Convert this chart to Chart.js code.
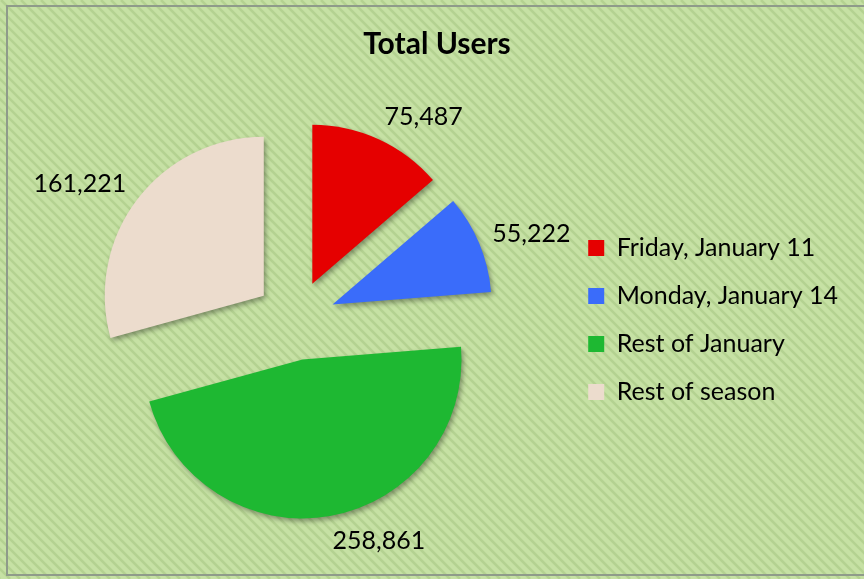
<!DOCTYPE html>
<html>
<head>
<meta charset="utf-8">
<script src="https://cdn.jsdelivr.net/npm/chart.js@4.4.1/dist/chart.umd.min.js"></script>
<style>
  html, body { margin: 0; padding: 0; background: #c5e0a3; }
</style>
</head>
<body>
<canvas id="usersChart" width="864" height="579"></canvas>
<script>
const categories = ['Friday, January 11', 'Monday, January 14', 'Rest of January', 'Rest of season'];
const userCounts = [75487, 55222, 258861, 161221];
const sliceColors = ['#e50000', '#3a6cfa', '#1eb832', '#ecdccd'];

const EXPLODE = 40; // px each slice is pulled out from the centre

// striped green backdrop + thin grey frame
const backdrop = {
  id: 'backdrop',
  beforeDraw(chart) {
    const { ctx, width, height } = chart;
    ctx.save();
    ctx.fillStyle = '#c6e1a4';
    ctx.fillRect(0, 0, width, height);
    ctx.strokeStyle = '#b4d291';
    ctx.lineWidth = 2.5;
    for (let x = -height; x < width + 10; x += 10) {
      ctx.beginPath();
      ctx.moveTo(x, 0);
      ctx.lineTo(x + height, height);
      ctx.stroke();
    }
    ctx.strokeStyle = '#8f9b8a';
    ctx.lineWidth = 2;
    ctx.strokeRect(7, 6, width + 10, height - 10);
    ctx.restore();
  }
};

// pull slices out along their middle angle
const explode = {
  id: 'explode',
  afterDatasetsUpdate(chart) {
    chart.getDatasetMeta(0).data.forEach(arc => {
      const mid = (arc.startAngle + arc.endAngle) / 2;
      arc.x += Math.cos(mid) * EXPLODE;
      arc.y += Math.sin(mid) * EXPLODE;
    });
  }
};

// soft drop shadow under slices, then value labels outside each slice
const sliceDecor = {
  id: 'sliceDecor',
  beforeDatasetsDraw(chart) {
    const ctx = chart.ctx;
    ctx.save();
    ctx.shadowColor = 'rgba(0,0,0,0.35)';
    ctx.shadowBlur = 5;
    ctx.shadowOffsetX = 2;
    ctx.shadowOffsetY = 3;
  },
  afterDatasetsDraw(chart) {
    const ctx = chart.ctx;
    ctx.restore();
    ctx.save();
    ctx.font = '25px Lato';
    ctx.fillStyle = '#000';
    ctx.textBaseline = 'middle';
    chart.getDatasetMeta(0).data.forEach((arc, i) => {
      const mid = (arc.startAngle + arc.endAngle) / 2;
      const c = Math.cos(mid), s = Math.sin(mid);
      const r = arc.outerRadius + 14;
      const px = arc.x + c * r;
      const py = arc.y + s * r;
      ctx.textAlign = c > 0.1 ? 'left' : (c < -0.1 ? 'right' : 'center');
      ctx.fillText(userCounts[i].toLocaleString('en-US'), px, py + s * 11);
    });
    ctx.restore();
  }
};

Chart.defaults.font.family = 'Lato';

new Chart(document.getElementById('usersChart'), {
  type: 'pie',
  data: {
    labels: categories,
    datasets: [{
      data: userCounts,
      backgroundColor: sliceColors,
      borderWidth: 0,
      radius: 159,
      clip: false
    }]
  },
  options: {
    responsive: false,
    animation: false,
    events: [],
    layout: { padding: { left: 26, right: 16, top: 10, bottom: 18 } },
    plugins: {
      title: {
        display: true,
        text: 'Total Users',
        color: '#000',
        font: { size: 30, weight: 'bold', lineHeight: 1.2 },
        padding: { top: 16, bottom: 17 }
      },
      legend: {
        position: 'right',
        fullSize: false,
        labels: {
          boxWidth: 16,
          boxHeight: 16,
          padding: 23,
          color: '#000',
          font: { size: 25 }
        }
      },
      tooltip: { enabled: false }
    }
  },
  plugins: [backdrop, explode, sliceDecor]
});
</script>
</body>
</html>
